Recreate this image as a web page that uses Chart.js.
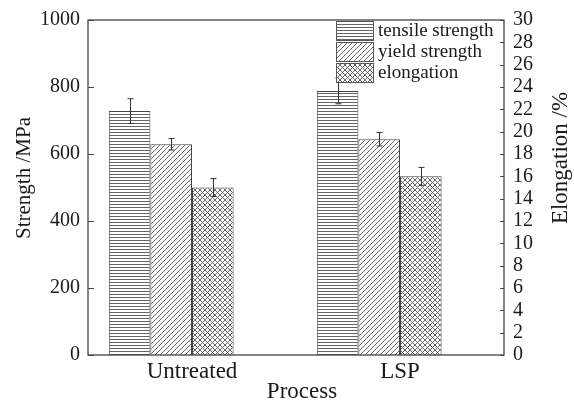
<!DOCTYPE html>
<html>
<head>
<meta charset="utf-8">
<script src="https://cdn.jsdelivr.net/npm/chart.js@4.4.0/dist/chart.umd.min.js"></script>
<style>
  html, body { margin: 0; padding: 0; background: #fff; }
  #wrap { width: 574px; height: 402px; }
</style>
</head>
<body>
<div id="wrap"><canvas id="chart" width="574" height="402"></canvas></div>
<script>
// data
const categories = ['Untreated', 'LSP'];
const seriesNames = ['tensile strength', 'yield strength', 'elongation'];
const tensile = [728, 788];
const tensileErr = [37, 38];
const yieldStrength = [629, 644];
const yieldErr = [17, 20];
const elongation = [15.0, 16.0];
const elongationErr = [0.8, 0.8];
const strengthTicks = [0, 200, 400, 600, 800, 1000];
const elongationTicks = [0, 2, 4, 6, 8, 10, 12, 14, 16, 18, 20, 22, 24, 26, 28, 30];

const serif = "'Liberation Serif', 'Times New Roman', serif";
const ink = '#444';
const textColor = '#1a1a1a';

function makePattern(kind) {
  const s = kind === 'h' ? 3 : 5;
  const c = document.createElement('canvas');
  c.width = s; c.height = s;
  const g = c.getContext('2d');
  g.fillStyle = '#fff';
  g.fillRect(0, 0, s, s);
  g.strokeStyle = '#555';
  g.lineWidth = 0.9;
  g.beginPath();
  if (kind === 'h') {
    g.moveTo(0, 0.5); g.lineTo(s, 0.5);
  } else {
    // "/" lines
    g.moveTo(-1, s + 1); g.lineTo(s + 1, -1);
    g.moveTo(-1, 1); g.lineTo(1, -1);
    g.moveTo(s - 1, s + 1); g.lineTo(s + 1, s - 1);
    if (kind === 'x') {
      g.moveTo(-1, -1); g.lineTo(s + 1, s + 1);
      g.moveTo(s - 1, -1); g.lineTo(s + 1, 1);
      g.moveTo(-1, s - 1); g.lineTo(1, s + 1);
    }
  }
  g.stroke();
  return g.createPattern(c, 'repeat');
}

const patterns = [makePattern('h'), makePattern('d'), makePattern('x')];
const errors = [tensileErr, yieldErr, elongationErr];

const extrasPlugin = {
  id: 'extras',
  afterDatasetsDraw(chart) {
    const ctx = chart.ctx;
    const area = chart.chartArea;
    const yL = chart.scales.y;
    const yR = chart.scales.y1;
    ctx.save();

    // error bars
    ctx.strokeStyle = '#333';
    ctx.lineWidth = 1;
    for (let d = 0; d < 3; d++) {
      const meta = chart.getDatasetMeta(d);
      const scale = d === 2 ? yR : yL;
      meta.data.forEach((bar, i) => {
        const v = chart.data.datasets[d].data[i];
        const e = errors[d][i];
        const x = Math.round(bar.x) + 0.5;
        const yt = scale.getPixelForValue(v + e);
        const yb = scale.getPixelForValue(v - e);
        ctx.beginPath();
        ctx.moveTo(x, yt); ctx.lineTo(x, yb);
        ctx.moveTo(x - 3, yt); ctx.lineTo(x + 3, yt);
        ctx.moveTo(x - 3, yb); ctx.lineTo(x + 3, yb);
        ctx.stroke();
      });
    }

    // frame
    ctx.strokeStyle = ink;
    ctx.lineWidth = 1.3;
    ctx.strokeRect(area.left, area.top, area.right - area.left, area.bottom - area.top);

    // inward ticks
    ctx.lineWidth = 1;
    ctx.beginPath();
    yL.ticks.forEach(t => {
      const y = Math.round(yL.getPixelForValue(t.value)) + 0.5;
      ctx.moveTo(area.left, y); ctx.lineTo(area.left + 6, y);
    });
    yR.ticks.forEach(t => {
      const y = Math.round(yR.getPixelForValue(t.value)) + 0.5;
      ctx.moveTo(area.right, y); ctx.lineTo(area.right - 4, y);
    });
    ctx.stroke();

    // legend inside plot, top right
    const lx = 336, bw = 37, bh = 19;
    ctx.font = '19px ' + serif;
    ctx.textBaseline = 'middle';
    ctx.textAlign = 'left';
    for (let d = 0; d < 3; d++) {
      const ly = area.top + 1 + d * 21;
      ctx.fillStyle = patterns[d];
      ctx.fillRect(lx, ly, bw, bh);
      ctx.strokeStyle = '#555';
      ctx.lineWidth = 1;
      ctx.strokeRect(lx + 0.5, ly + 0.5, bw, bh);
      ctx.fillStyle = textColor;
      ctx.fillText(seriesNames[d], lx + bw + 5, ly + bh / 2 + 1);
    }

    // axis titles
    ctx.fillStyle = textColor;
    ctx.font = '23px ' + serif;
    ctx.textAlign = 'center';
    ctx.fillText('Process', 302, 392);
    ctx.save();
    ctx.translate(561, 158);
    ctx.rotate(-Math.PI / 2);
    ctx.fillText('Elongation /%', 0, 0);
    ctx.restore();
    ctx.font = '21px ' + serif;
    ctx.save();
    ctx.translate(24, 178);
    ctx.rotate(-Math.PI / 2);
    ctx.fillText('Strength /MPa', 0, 0);
    ctx.restore();

    ctx.restore();
  }
};

new Chart(document.getElementById('chart'), {
  type: 'bar',
  data: {
    labels: categories,
    datasets: [
      { label: seriesNames[0], data: tensile, yAxisID: 'y', backgroundColor: patterns[0], borderColor: '#444', borderWidth: 1 },
      { label: seriesNames[1], data: yieldStrength, yAxisID: 'y', backgroundColor: patterns[1], borderColor: '#444', borderWidth: 1 },
      { label: seriesNames[2], data: elongation, yAxisID: 'y1', backgroundColor: patterns[2], borderColor: '#444', borderWidth: 1 },
      // empty slot so the group sits left of the category label, as in the original
      { label: '', data: [null, null], yAxisID: 'y' }
    ]
  },
  options: {
    responsive: false,
    animation: false,
    layout: { padding: { top: 20, left: 0, right: 0, bottom: 0 } },
    datasets: { bar: { categoryPercentage: 0.8, barPercentage: 1.0 } },
    plugins: { legend: { display: false }, tooltip: { enabled: false } },
    scales: {
      x: {
        grid: { display: false },
        border: { display: false },
        ticks: { color: textColor, font: { family: serif, size: 23 }, padding: -5 },
        afterFit(s) { s.height = 47; }
      },
      y: {
        position: 'left',
        min: 0, max: 1000,
        afterBuildTicks(s) { s.ticks = strengthTicks.map(v => ({ value: v })); },
        grid: { display: false },
        border: { display: false },
        ticks: { color: textColor, font: { family: serif, size: 20 }, padding: 0, autoSkip: false, callback: v => String(v) },
        afterFit(s) { s.width = 88; }
      },
      y1: {
        position: 'right',
        min: 0, max: 30,
        afterBuildTicks(s) { s.ticks = elongationTicks.map(v => ({ value: v })); },
        grid: { display: false },
        border: { display: false },
        ticks: { color: textColor, font: { family: serif, size: 20 }, padding: 1, autoSkip: false, callback: v => String(v) },
        afterFit(s) { s.width = 70; }
      }
    }
  },
  plugins: [extrasPlugin]
});
</script>
</body>
</html>
